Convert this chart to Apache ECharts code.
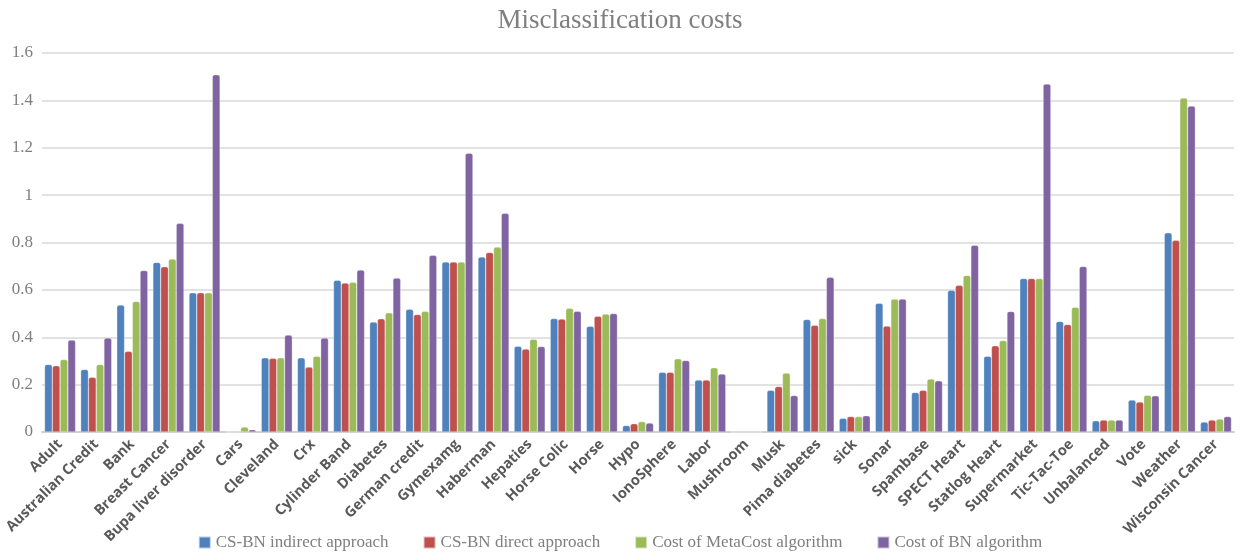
<!DOCTYPE html>
<html><head><meta charset="utf-8">
<script src="https://cdn.jsdelivr.net/npm/echarts@6/dist/echarts.min.js"></script>
<style>html,body{margin:0;padding:0;background:#fff}#c{width:1240px;height:558px}</style>
</head><body><div id="c"></div>
<script>
const categories = ["Adult","Australian Credit","Bank","Breast Cancer","Bupa liver disorder","Cars","Cleveland","Crx","Cylinder Band","Diabetes","German credit","Gymexamg","Haberman","Hepaties","Horse Colic","Horse","Hypo","IonoSphere","Labor","Mushroom","Musk","Pima diabetes","sick","Sonar","Spambase","SPECT Heart","Statlog Heart","Supermarket","Tic-Tac-Toe","Unbalanced","Vote","Weather","Wisconsin Cancer"];
const seriesNames = ["CS-BN indirect approach","CS-BN direct approach","Cost of MetaCost algorithm","Cost of BN algorithm"];
const indirect = [0.285,0.264,0.536,0.716,0.588,0,0.313,0.313,0.641,0.464,0.518,0.718,0.739,0.362,0.479,0.446,0.027,0.252,0.220,0,0.176,0.475,0.058,0.544,0.167,0.598,0.320,0.648,0.467,0.047,0.135,0.841,0.042];
const direct = [0.280,0.231,0.341,0.698,0.588,0,0.311,0.274,0.629,0.478,0.496,0.718,0.758,0.350,0.477,0.489,0.035,0.252,0.220,0,0.192,0.451,0.065,0.447,0.176,0.619,0.364,0.648,0.454,0.051,0.127,0.809,0.051];
const metacost = [0.306,0.285,0.551,0.730,0.588,0.021,0.313,0.320,0.632,0.503,0.510,0.718,0.781,0.392,0.522,0.498,0.044,0.309,0.271,0,0.249,0.479,0.065,0.561,0.224,0.661,0.386,0.648,0.527,0.051,0.155,1.410,0.055];
const bn = [0.388,0.397,0.682,0.881,1.508,0.010,0.409,0.397,0.684,0.650,0.746,1.177,0.923,0.361,0.510,0.500,0.038,0.302,0.245,0,0.154,0.653,0.069,0.561,0.216,0.788,0.509,1.469,0.699,0.051,0.153,1.376,0.065];
const yTicks = [0,0.2,0.4,0.6,0.8,1,1.2,1.4,1.6];
const colors = ["#4F81BD","#C0504D","#9BBB59","#8064A2"];
const values = [indirect, direct, metacost, bn];

const chart = echarts.init(document.getElementById('c'));
chart.setOption({
  animation:false,
  color: colors,
  title:{text:"Misclassification costs",left:'center',top:2,
    textStyle:{fontFamily:"Liberation Serif",fontWeight:'normal',fontSize:27,color:'#7f7f7f'}},
  legend:{bottom:2,left:'center',itemWidth:12,itemHeight:12,itemGap:34,icon:'rect',
    textStyle:{fontFamily:"Liberation Serif",fontSize:17,color:'#7f7f7f'},
    data:seriesNames},
  grid:{left:42,right:6,top:53,bottom:126,containLabel:false},
  xAxis:{type:'category',data:categories,
    axisLine:{lineStyle:{color:'#d0d0d0',width:2}},
    axisTick:{show:false},
    axisLabel:{rotate:45,interval:0,margin:10,fontFamily:"Open Sans",fontWeight:'bold',fontSize:14.5,color:'#595959'}},
  yAxis:{type:'value',min:0,max:1.6,interval:0.2,
    axisLine:{show:false},axisTick:{show:false},
    splitLine:{lineStyle:{color:'#d9d9d9',width:1.5}},
    axisLabel:{fontFamily:"Liberation Serif",fontSize:17,color:'#7f7f7f',margin:9,
      formatter:v=>{const t=yTicks.find(x=>Math.abs(x-v)<1e-9);return t===undefined?'':String(t);}}},
  series: seriesNames.map((n,i)=>({name:n,type:'bar',data:values[i],barGap:'0%',barCategoryGap:'14%',
    itemStyle:{borderRadius:[2,2,0,0],borderColor:'rgba(255,255,255,0.6)',borderWidth:0.5}}))
});
</script></body></html>
